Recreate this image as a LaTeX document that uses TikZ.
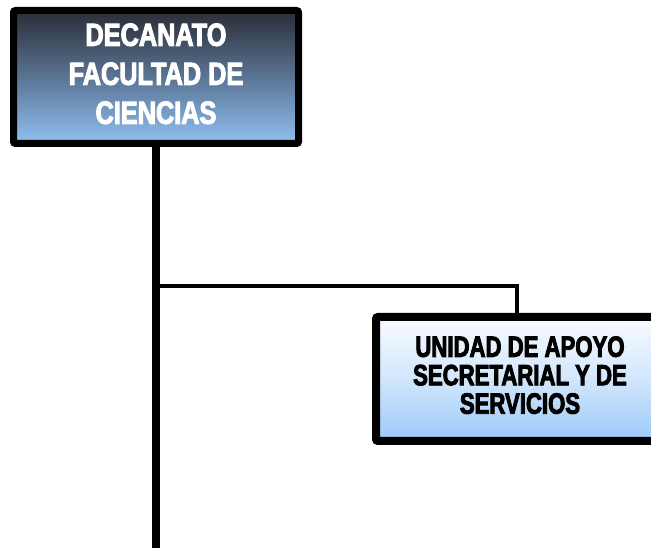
\documentclass[tikz,border=0pt]{standalone}
\usepackage{fontspec}
\newfontfamily\narrowA[FakeStretch=0.79,FakeBold=3]{Liberation Sans}
\newfontfamily\narrowB[FakeStretch=0.755,FakeBold=3]{Liberation Sans}
\definecolor{topdark}{HTML}{2A2D36}
\definecolor{middark}{HTML}{5A7494}
\definecolor{botblue}{HTML}{90C0F2}
\definecolor{topwhite}{HTML}{F8FBFF}
\definecolor{midlight}{HTML}{D2E6FC}
\definecolor{botlight}{HTML}{9CCAF8}
\begin{document}
\begin{tikzpicture}[x=0.75pt,y=-0.75pt,
  deanbox/.style={draw=black,line width=5.25pt,rounded corners=1.5pt,
    minimum width=285*0.75pt,minimum height=133*0.75pt,inner sep=0pt,
    align=center,text=white,
    top color=topdark,bottom color=botblue,middle color=middark,
    font=\narrowA\bfseries\fontsize{24pt}{29.25pt}\selectfont},
  unitbox/.style={draw=black,line width=6pt,rounded corners=1.5pt,
    minimum width=288*0.75pt,minimum height=124*0.75pt,inner sep=0pt,
    align=center,text=black,
    top color=topwhite,bottom color=botlight,middle color=midlight,
    font=\narrowB\bfseries\fontsize{22pt}{19.9pt}\selectfont},
  trunk/.style={draw=black,line width=6pt},
  branch/.style={draw=black,line width=3pt}]
\useasboundingbox (0,0) rectangle (651,548);
\node[deanbox] (dean) at (156,77) {\raisebox{2pt}{\begin{tabular}{@{}c@{}}DECANATO\\FACULTAD DE\\CIENCIAS\end{tabular}}};
\node[unitbox] (unit) at (520,379) {\raisebox{4pt}{\begin{tabular}{@{}c@{}}UNIDAD DE APOYO\\SECRETARIAL Y DE\\SERVICIOS\end{tabular}}};
\coordinate (bot) at (156,552);
\coordinate (j) at (156,286);
\draw[branch] (j) -| ([xshift=-3*0.75pt]unit.north);
\draw[trunk] (dean.south) -- (bot);
\end{tikzpicture}
\end{document}
